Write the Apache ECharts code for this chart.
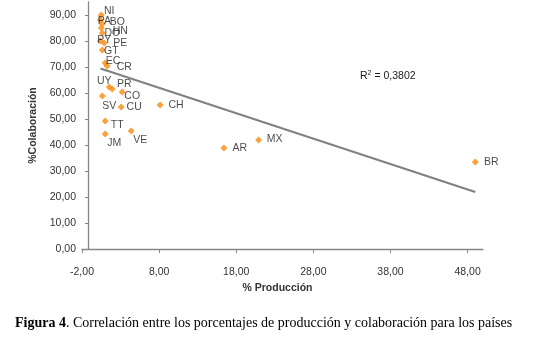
<!DOCTYPE html>
<html>
<head>
<meta charset="utf-8">
<script src="https://cdn.jsdelivr.net/npm/echarts@6/dist/echarts.min.js"></script>
<style>
  html, body { margin: 0; padding: 0; background: #ffffff; }
  #chart { width: 550px; height: 343px; }
</style>
</head>
<body>
<div id="chart"></div>
<script>
// Countries with their % production (x) and % collaboration (y)
const countries = ["NI", "PA", "BO", "HN", "DO", "PY", "PE", "GT", "EC", "CR", "UY", "PR",
  "CO", "SV", "CU", "CH", "TT", "JM", "VE", "AR", "MX", "BR"];
const produccion = [0.5, 0.37, 0.63, 0.5, 0.63, 0.37, 0.88, 0.63, 1.0, 1.27, 1.53, 1.92,
  3.21, 0.63, 3.08, 8.13, 1.01, 1.01, 4.38, 16.4, 20.9, 49.0];
const colaboracion = [90.0, 88.1, 86.5, 85.0, 83.1, 80.0, 79.2, 76.5, 71.5, 70.4, 62.3, 61.5,
  60.4, 58.8, 54.6, 55.4, 49.2, 44.2, 45.4, 38.8, 41.9, 33.5];

// linear trend line endpoints, as drawn in the figure
const trendX = [0.4, 49.0];
const trendY = [69.4, 21.9];

const xTicks = { min: -2, max: 50, interval: 10 };
const yTicks = { min: 0, max: 95, interval: 10 };

// where each data label sits relative to its marker (px)
const labelOffset = {
  NI: [8, -4], PA: [4, 1], BO: [15, -2], HN: [19, 3], DO: [10, 0], PY: [4, -1],
  PE: [16, 0], GT: [9, 1], EC: [8, -2], CR: [17, 1], UY: [-5, -6], PR: [12, -5],
  CO: [10, 4], SV: [7, 10], CU: [13, 0], CH: [16, 0], TT: [12, 4], JM: [9, 9],
  VE: [9, 9], AR: [16, 0], MX: [16, -1], BR: [16, 0],
};

const ORANGE = "#F98B0C";
const AXIS = "#868686";
const TEXT = "#333333";
const FONT = '"Liberation Sans", Arial, sans-serif';

const fmt = (v) => v.toFixed(2).replace(".", ",");

const points = countries.map((c, i) => ({
  name: c,
  value: [produccion[i], colaboracion[i]],
  label: { offset: labelOffset[c] },
}));

const chart = echarts.init(document.getElementById("chart"));
chart.setOption({
  animation: false,
  textStyle: { fontFamily: FONT },
  grid: { left: 82, right: 67, top: 2, bottom: 94 },
  xAxis: {
    type: "value",
    ...xTicks,
    splitLine: { show: false },
    axisLine: { onZero: false, lineStyle: { color: AXIS, width: 1.3 } },
    axisTick: { show: true, length: 4, lineStyle: { color: AXIS } },
    axisLabel: {
      color: TEXT, fontSize: 10.5, margin: 18, showMaxLabel: false,
      formatter: (v) => (v === 50 ? "" : fmt(v)),
    },
    name: "% Producción",
    nameLocation: "middle",
    nameGap: 31,
    nameTextStyle: { color: TEXT, fontSize: 10.5, fontWeight: "bold", padding: [0, 10, 0, 0] },
  },
  yAxis: {
    type: "value",
    ...yTicks,
    offset: -6,
    splitLine: { show: false },
    axisLine: { onZero: false, lineStyle: { color: AXIS, width: 1.3 } },
    axisTick: { show: true, length: 3, lineStyle: { color: AXIS } },
    axisLabel: {
      color: TEXT, fontSize: 10.5, margin: 12, showMaxLabel: false,
      formatter: (v) => (v % 10 === 0 ? fmt(v) : ""),
    },
    name: "%Colaboración",
    nameLocation: "middle",
    nameGap: 48,
    nameRotate: 90,
    nameTextStyle: { color: TEXT, fontSize: 10.5, fontWeight: "bold" },
  },
  series: [
    {
      type: "line",
      data: trendX.map((x, i) => [x, trendY[i]]),
      showSymbol: false,
      lineStyle: { color: "#808080", width: 2 },
      silent: true,
      z: 1,
    },
    {
      type: "scatter",
      data: points,
      symbol: "diamond",
      symbolSize: 7,
      itemStyle: { color: ORANGE },
      label: {
        show: true,
        position: "inside",
        formatter: "{b}",
        color: "#1a1a1a",
        fontSize: 10.5,
      },
      z: 3,
    },
  ],
  graphic: [
    {
      type: "text",
      left: 360,
      top: 70,
      style: {
        text: "R{sup|2} = 0,3802",
        rich: { sup: { fontSize: 7, verticalAlign: "top", padding: [0, 0, 5, 0] } },
        fill: "#1a1a1a",
        font: "10.5px " + FONT,
      },
    },
    {
      type: "text",
      left: 15,
      top: 316,
      style: {
        text: "{b|Figura 4}. Correlación entre los porcentajes de producción y colaboración para los países",
        rich: { b: { fontWeight: "bold", fontFamily: '"Liberation Serif", serif', fontSize: 14 } },
        fill: "#000000",
        font: '14px "Liberation Serif", serif',
      },
    },
  ],
});
</script>
</body>
</html>
